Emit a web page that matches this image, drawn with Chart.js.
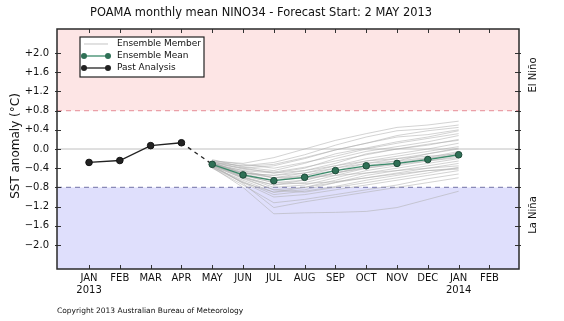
<!DOCTYPE html>
<html>
<head>
<meta charset="utf-8">
<script src="https://cdn.jsdelivr.net/npm/chart.js@4/dist/chart.umd.min.js"></script>
<style>
  html, body { margin: 0; padding: 0; background: #fff; }
  #wrap { width: 564px; height: 321px; position: relative; }
</style>
</head>
<body>
<div id="wrap"><canvas id="chart"></canvas></div>
<script>
// month index: 0 = JAN 2013
const monthLabels = ['JAN','FEB','MAR','APR','MAY','JUN','JUL','AUG','SEP','OCT','NOV','DEC','JAN','FEB'];
const yearLabels  = {0: '2013', 12: '2014'};
const yTicks = [-2.0, -1.6, -1.2, -0.8, -0.4, 0.0, 0.4, 0.8, 1.2, 1.6, 2.0];
const thresholds = [-0.8, 0.8];

const pastMonths = [0, 1, 2, 3];
const pastValues = [-0.28, -0.24, 0.07, 0.13];

const fcMonths = [4, 5, 6, 7, 8, 9, 10, 11, 12];
const meanValues = [-0.32, -0.54, -0.66, -0.59, -0.45, -0.35, -0.30, -0.22, -0.12];

// ensemble members, one row per member, values at fcMonths
const members = [
  [-0.25,-0.30,-0.18, 0.00, 0.18, 0.32, 0.45, 0.50, 0.58],
  [-0.28,-0.35,-0.28,-0.12, 0.08, 0.25, 0.38, 0.42, 0.50],
  [-0.30,-0.40,-0.35,-0.20,-0.02, 0.12, 0.28, 0.38, 0.45],
  [-0.22,-0.38,-0.45,-0.30,-0.10, 0.02, 0.15, 0.25, 0.38],
  [-0.32,-0.45,-0.50,-0.40,-0.20,-0.05, 0.05, 0.15, 0.28],
  [-0.35,-0.50,-0.55,-0.45,-0.30,-0.10, 0.00, 0.08, 0.20],
  [-0.30,-0.48,-0.60,-0.50,-0.35,-0.20,-0.10, 0.00, 0.12],
  [-0.28,-0.52,-0.65,-0.55,-0.40,-0.25,-0.15,-0.05, 0.05],
  [-0.33,-0.55,-0.70,-0.65,-0.50,-0.35,-0.25,-0.10, 0.00],
  [-0.36,-0.60,-0.75,-0.70,-0.55,-0.40,-0.30,-0.20,-0.08],
  [-0.31,-0.58,-0.80,-0.75,-0.60,-0.45,-0.35,-0.25,-0.15],
  [-0.34,-0.62,-0.85,-0.80,-0.65,-0.50,-0.40,-0.30,-0.20],
  [-0.38,-0.65,-0.90,-0.85,-0.70,-0.55,-0.45,-0.35,-0.25],
  [-0.29,-0.55,-0.70,-0.72,-0.68,-0.60,-0.50,-0.40,-0.30],
  [-0.32,-0.60,-0.85,-0.90,-0.80,-0.70,-0.60,-0.50,-0.38],
  [-0.36,-0.70,-1.00,-0.95,-0.85,-0.75,-0.65,-0.55,-0.45],
  [-0.40,-0.75,-1.12,-1.05,-0.95,-0.85,-0.75,-0.62,-0.52],
  [-0.33,-0.72,-1.22,-1.10,-1.00,-0.90,-0.80,-0.70,-0.60],
  [-0.38,-0.80,-1.35,-1.33,-1.32,-1.30,-1.22,-1.05,-0.88],
  [-0.27,-0.40,-0.50,-0.45,-0.35,-0.25,-0.20,-0.15,-0.10],
  [-0.24,-0.32,-0.40,-0.28,-0.15, 0.00, 0.12, 0.22, 0.32],
  [-0.30,-0.45,-0.60,-0.55,-0.45,-0.30,-0.20,-0.10, 0.02],
  [-0.35,-0.55,-0.65,-0.60,-0.55,-0.50,-0.45,-0.40,-0.35],
  [-0.37,-0.68,-0.95,-0.88,-0.78,-0.65,-0.55,-0.45,-0.40],
  [-0.29,-0.50,-0.60,-0.60,-0.50,-0.40,-0.32,-0.25,-0.18],
  [-0.26,-0.36,-0.32,-0.18,-0.02, 0.12, 0.25, 0.30, 0.40],
  [-0.34,-0.58,-0.75,-0.65,-0.50,-0.38,-0.28,-0.20,-0.12],
  [-0.31,-0.50,-0.55,-0.50,-0.40,-0.30,-0.25,-0.18,-0.05],
  [-0.39,-0.70,-0.90,-0.80,-0.70,-0.60,-0.52,-0.45,-0.42],
  [-0.27,-0.42,-0.48,-0.38,-0.25,-0.12, 0.00, 0.10, 0.18]
];

const FONT = '"DejaVu Sans", sans-serif';
const MEAN_COL = '#3a8a6a';
const MEAN_PT = '#2f7056';
const PAST_COL = '#222';
const MEMBER_COL = 'rgba(175,175,175,0.55)';
const TITLE = 'POAMA monthly mean NINO34 - Forecast Start: 2 MAY 2013';

const pts = (xs, ys) => xs.map((x, i) => ({x, y: ys[i]}));

const datasets = [
  {label: 'Ensemble Mean', data: pts(fcMonths, meanValues), borderColor: MEAN_COL, borderWidth: 1.3,
   pointRadius: 3.3, pointBackgroundColor: MEAN_PT, pointBorderColor: '#1d4a38', pointBorderWidth: 1, order: 1},
  {label: 'Past Analysis', data: pts(pastMonths, pastValues), borderColor: PAST_COL, borderWidth: 1.3,
   pointRadius: 3.3, pointBackgroundColor: PAST_COL, pointBorderColor: '#111', pointBorderWidth: 1, order: 1},
  {label: 'link', data: [{x: pastMonths[pastMonths.length-1], y: pastValues[pastValues.length-1]}, {x: fcMonths[0], y: meanValues[0]}],
   borderColor: PAST_COL, borderWidth: 1.3, borderDash: [4, 4], pointRadius: 0, order: 2}
];
members.forEach((m, i) => datasets.push({
  label: i === 0 ? 'Ensemble Member' : '', data: pts(fcMonths, m),
  borderColor: MEMBER_COL, borderWidth: 1, pointRadius: 0, order: 3
}));

const decor = {
  id: 'decor',
  beforeDatasetsDraw(chart) {
    const {ctx, chartArea: a, scales: {y}} = chart;
    const yLo = y.getPixelForValue(thresholds[0]), yHi = y.getPixelForValue(thresholds[1]);
    ctx.save();
    ctx.fillStyle = '#fde5e5';
    ctx.fillRect(a.left, a.top, a.width, yHi - a.top);
    ctx.fillStyle = '#dfdffc';
    ctx.fillRect(a.left, yLo, a.width, a.bottom - yLo);
    // zero line
    const y0 = y.getPixelForValue(0);
    ctx.strokeStyle = '#c0c0c0'; ctx.lineWidth = 1;
    ctx.beginPath(); ctx.moveTo(a.left, y0); ctx.lineTo(a.right, y0); ctx.stroke();
    // threshold dashes
    ctx.setLineDash([5, 4]); ctx.lineWidth = 1.2;
    ctx.strokeStyle = '#eaa0a8';
    ctx.beginPath(); ctx.moveTo(a.left, yHi); ctx.lineTo(a.right, yHi); ctx.stroke();
    ctx.strokeStyle = '#8a8ab8';
    ctx.beginPath(); ctx.moveTo(a.left, yLo); ctx.lineTo(a.right, yLo); ctx.stroke();
    ctx.restore();
  },
  afterDraw(chart) {
    const {ctx, chartArea: a, scales: {x, y}} = chart;
    ctx.save();
    // inward ticks
    ctx.strokeStyle = '#333'; ctx.lineWidth = 1;
    ctx.beginPath();
    monthLabels.forEach((_, i) => {
      const px = Math.round(x.getPixelForValue(i)) + 0.5;
      ctx.moveTo(px, a.bottom); ctx.lineTo(px, a.bottom - 4);
      ctx.moveTo(px, a.top); ctx.lineTo(px, a.top + 4);
    });
    yTicks.forEach(v => {
      const py = Math.round(y.getPixelForValue(v)) + 0.5;
      ctx.moveTo(a.left - 2, py); ctx.lineTo(a.left + 4, py);
      ctx.moveTo(a.right + 2, py); ctx.lineTo(a.right - 4, py);
    });
    ctx.stroke();
    // frame
    ctx.strokeStyle = '#2a2a2a'; ctx.lineWidth = 1.5;
    ctx.strokeRect(a.left, a.top, a.width, a.height);

    // title, sized to the reference width
    ctx.fillStyle = '#111';
    ctx.textAlign = 'center'; ctx.textBaseline = 'middle';
    ctx.font = '13px ' + FONT;
    const tw = ctx.measureText(TITLE).width;
    ctx.save(); ctx.translate(261, 13); ctx.scale(342 / tw, 1);
    ctx.fillText(TITLE, 0, 0); ctx.restore();

    // axis title
    ctx.font = '12px ' + FONT;
    ctx.save(); ctx.translate(16, 146); ctx.rotate(-Math.PI / 2);
    ctx.fillText('SST anomaly (\u00B0C)', 0, 0); ctx.restore();

    // regime labels
    ctx.font = '10px ' + FONT;
    ctx.save(); ctx.translate(533, 75); ctx.rotate(-Math.PI / 2);
    ctx.fillText('El Ni\u00F1o', 0, 0); ctx.restore();
    ctx.save(); ctx.translate(533, 215); ctx.rotate(-Math.PI / 2);
    ctx.fillText('La Ni\u00F1a', 0, 0); ctx.restore();

    // copyright
    ctx.textAlign = 'left';
    ctx.font = '7.5px ' + FONT;
    ctx.fillText('Copyright 2013 Australian Bureau of Meteorology', 57, 311);

    // legend
    const bx = 80, by = 37, bw = 124, bh = 40;
    ctx.fillStyle = '#fff'; ctx.fillRect(bx, by, bw, bh);
    ctx.strokeStyle = '#222'; ctx.lineWidth = 1.2; ctx.strokeRect(bx, by, bw, bh);
    const rows = [
      {label: datasets[3].label, col: 'rgba(190,190,190,0.9)', pt: null},
      {label: datasets[0].label, col: MEAN_COL, pt: MEAN_PT},
      {label: datasets[1].label, col: PAST_COL, pt: PAST_COL}
    ];
    ctx.font = '9px ' + FONT; ctx.textBaseline = 'middle';
    rows.forEach((r, i) => {
      const ry = by + 7 + i * 12;
      ctx.strokeStyle = r.col; ctx.lineWidth = r.pt ? 1.3 : 1;
      ctx.beginPath(); ctx.moveTo(84, ry); ctx.lineTo(108, ry); ctx.stroke();
      if (r.pt) {
        ctx.fillStyle = r.pt;
        [84, 108].forEach(px => { ctx.beginPath(); ctx.arc(px, ry, 3, 0, Math.PI * 2); ctx.fill(); });
      }
      ctx.fillStyle = '#111';
      ctx.fillText(r.label, 117, ry);
    });
    ctx.restore();
  }
};

new Chart(document.getElementById('chart'), {
  type: 'line',
  data: {datasets},
  options: {
    responsive: true, maintainAspectRatio: false, animation: false,
    layout: {padding: {top: 29, right: 45, bottom: 0, left: 0}},
    plugins: {legend: {display: false}, tooltip: {enabled: false}, title: {display: false}},
    scales: {
      x: {
        type: 'linear', min: -1.04, max: 13.96,
        afterBuildTicks: s => { s.ticks = monthLabels.map((_, i) => ({value: i})); },
        afterFit: s => { s.height = 52; },
        grid: {display: false, drawTicks: false}, border: {display: false},
        ticks: {
          autoSkip: false, maxRotation: 0, padding: 3, color: '#111',
          font: {family: FONT, size: 10},
          callback: v => yearLabels[v] ? [monthLabels[v], yearLabels[v]] : monthLabels[v]
        }
      },
      y: {
        min: -2.5, max: 2.5,
        afterBuildTicks: s => { s.ticks = yTicks.map(v => ({value: v})); },
        afterFit: s => { s.width = 57; },
        grid: {display: false, drawTicks: false}, border: {display: false},
        ticks: {
          padding: 8, color: '#111', font: {family: FONT, size: 10},
          callback: v => (v > 0 ? '+' : v < 0 ? '\u2212' : '') + Math.abs(v).toFixed(1)
        }
      }
    }
  },
  plugins: [decor]
});
</script>
</body>
</html>
